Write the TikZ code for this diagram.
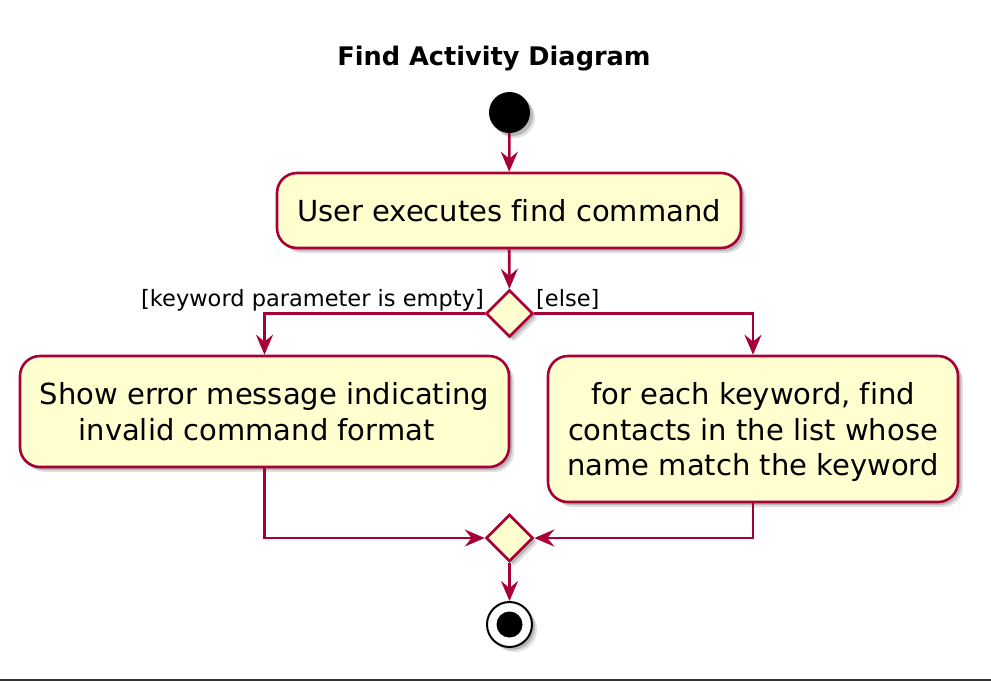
\documentclass[tikz,border=0pt]{standalone}
\usepackage{fontspec}
\setmainfont{DejaVu Sans}[Ligatures=NoCommon]
\usetikzlibrary{arrows.meta,shapes.geometric,shadows,positioning,calc}
\definecolor{umlred}{HTML}{A80036}
\definecolor{umlfill}{HTML}{FEFECE}
\newcommand{\nodepth}[1]{\raisebox{0pt}[\height][0pt]{#1}}
\tikzset{
  shade4/.style={drop shadow={shadow xshift=5pt,shadow yshift=-5pt,opacity=.12,fill=black},
                 drop shadow={shadow xshift=3pt,shadow yshift=-3pt,opacity=.18,fill=black}},
  actbox/.style={draw=umlred,fill=umlfill,line width=2.6pt,rounded corners=20pt,align=center,inner sep=0pt,
     font=\fontsize{29}{35.5}\selectfont,shade4},
  decision/.style={diamond,draw=umlred,fill=umlfill,line width=2.6pt,minimum width=47pt,minimum height=47pt,inner sep=0pt,aspect=1,shade4},
  flow/.style={draw=umlred,line width=2.6pt,-{Stealth[length=20pt,width=17pt,inset=7pt]}},
  guard/.style={font=\fontsize{22.5}{27}\selectfont,inner sep=0pt},
}
\begin{document}
\begin{tikzpicture}[x=1pt,y=-1pt]
\useasboundingbox (0,0) rectangle (991,681);
\node[font=\bfseries\fontsize{25.6}{30}\selectfont,anchor=base] (title) at (494,65) {Find Activity Diagram};
\node[circle,fill=black,minimum size=41pt,inner sep=0pt,shade4] (start) at (509.5,112.5) {};
\node[actbox,minimum width=464pt,minimum height=75pt] (b1) at (509,210.5) {User executes find command};
\node[decision] (d1) at (509.5,313.5) {};
\node[actbox,minimum width=489pt,minimum height=111pt] (b2) at (264.5,411.5) {Show error message indicating\\\nodepth{invalid command format}\hspace*{16pt}};
\node[actbox,minimum width=410pt,minimum height=146pt] (b3) at (753,429) {for each keyword, find\\contacts in the list whose\\\nodepth{name match the keyword}};
\node[decision] (d2) at (509.5,538) {};
\node[circle,draw=black,line width=2pt,fill=white,minimum size=45pt,inner sep=0pt,shade4] (end) at (509.5,624.5) {};
\node[circle,fill=black,minimum size=26pt,inner sep=0pt] (endin) at (end.center) {};
\draw[flow] (start) -- (b1);
\draw[flow] (b1) -- (d1);
\draw[flow] (d1.west) -| (b2.north);
\draw[flow] (d1.east) -| (b3.north);
\draw[flow] (b2.south) |- (d2.west);
\draw[flow] (b3.south) |- (d2.east);
\draw[flow] (d2) -- (end);
\node[guard,anchor=base east] (g1) at (484,306) {[keyword parameter is empty]};
\node[guard,anchor=base west] (g2) at (536,306) {[else]};
\draw[line width=2pt,black!80] (0,680) -- (991,680);
\end{tikzpicture}
\end{document}
